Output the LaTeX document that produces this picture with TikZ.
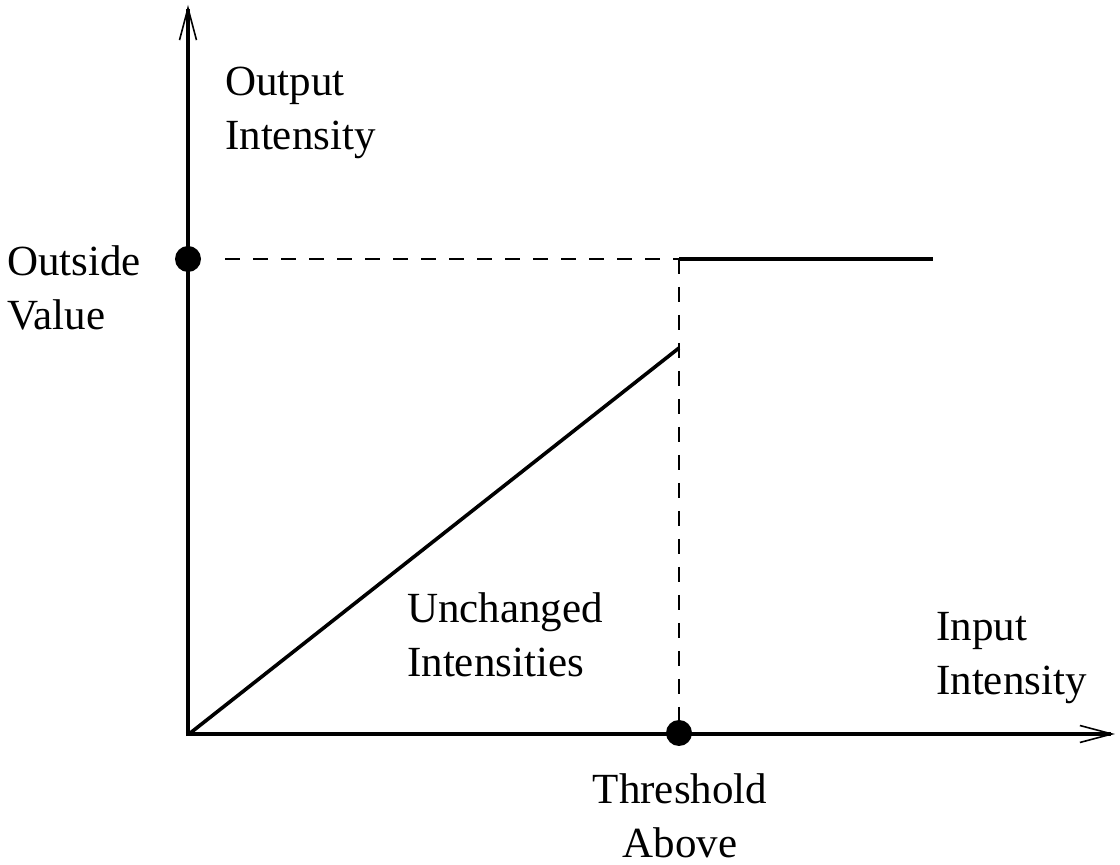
\documentclass[tikz,border=0pt]{standalone}
\usepackage{fontspec}
\setmainfont{Liberation Serif}
\usetikzlibrary{arrows.meta}
\begin{document}
\begin{tikzpicture}[x=1pt,y=1pt,
  axis/.style={line width=4.5pt,-{Straight Barb[length=32pt,width=17pt,line width=1.6pt]}},
  curve/.style={line width=3.6pt},
  stepline/.style={line width=4.5pt},
  guide/.style={line width=2pt,dash pattern=on 15pt off 13pt},
  dot/.style={circle,fill=black,minimum size=26pt,inner sep=0pt},
  lbl/.style={font=\fontsize{43}{54}\selectfont,inner sep=0pt,align=left,anchor=base west}]
\useasboundingbox (0,0) rectangle (1120,865);
\coordinate (O) at (188,131);
\coordinate (ytip) at (188,860);
\coordinate (xtip) at (1115,131);
\coordinate (dstart) at (225,606);
\coordinate (corner) at (679,606);
\coordinate (stepend) at (933,606);
\coordinate (diagend) at (679,517);
\draw[axis] ([yshift=-2.25pt]O) -- (ytip);
\draw[axis] ([xshift=-2.25pt]O) -- (xtip);
\draw[guide] (dstart) -- (corner);
\node[dot] (outdot) at (188,606) {};
\node[dot] (thrdot) at (679,132) {};
\draw[guide] (corner) -- (thrdot.center);
\draw[stepline] (corner) -- (stepend);
\draw[curve] ([xshift=1pt]O) -- (diagend);
\node[lbl] (outint) at (225,715) {Output\\Intensity};
\node[lbl] (outval) at (7,535) {Outside\\Value};
\node[lbl] (unch) at (407,188) {Unchanged\\Intensities};
\node[lbl] (inint) at (936,170) {Input\\Intensity};
\node[lbl,align=center,anchor=base] (thr) at (680,7) {Threshold\\Above};
\end{tikzpicture}
\end{document}
